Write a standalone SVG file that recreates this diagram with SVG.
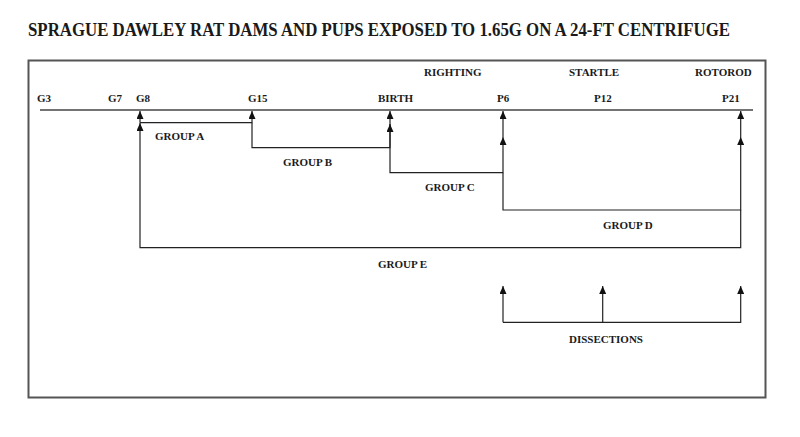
<svg xmlns="http://www.w3.org/2000/svg" width="800" height="437" viewBox="0 0 800 437">
<style>
text{font-family:"Liberation Serif","Times New Roman",serif;font-weight:bold;fill:#1a1a1a}
.lbl{font-size:11px}
.title{font-size:18px}
.c{fill:none;stroke:#222;stroke-width:1.2}
</style>
<defs>
<marker id="ah" viewBox="0 0 8 7" refX="8" refY="3.5" markerWidth="8" markerHeight="7" markerUnits="userSpaceOnUse" orient="auto">
<path d="M0,0 L8,3.5 L0,7 z" fill="#111"/>
</marker>
</defs>
<rect width="800" height="437" fill="#fff"/>
<text class="title" x="28" y="36" textLength="702" lengthAdjust="spacingAndGlyphs">SPRAGUE DAWLEY RAT DAMS AND PUPS EXPOSED TO 1.65G ON A 24-FT CENTRIFUGE</text>
<rect x="28.5" y="60.5" width="737" height="337" fill="none" stroke="#555" stroke-width="2"/>
<g id="timeline">
<line x1="40" y1="110" x2="753" y2="110" stroke="#444" stroke-width="1.5"/>
<text class="lbl" x="37" y="102">G3</text>
<text class="lbl" x="108" y="102">G7</text>
<text class="lbl" x="136" y="102">G8</text>
<text class="lbl" x="248" y="102">G15</text>
<text class="lbl" x="378" y="102">BIRTH</text>
<text class="lbl" x="497" y="102">P6</text>
<text class="lbl" x="594" y="102">P12</text>
<text class="lbl" x="722" y="102">P21</text>
<text class="lbl" x="424" y="76">RIGHTING</text>
<text class="lbl" x="569" y="76">STARTLE</text>
<text class="lbl" x="695" y="76">ROTOROD</text>
</g>
<g id="groupA"><text class="lbl" x="155" y="140">GROUP A</text></g>
<g id="groupB"><text class="lbl" x="283" y="165.5">GROUP B</text></g>
<g id="groupC"><text class="lbl" x="425" y="191">GROUP C</text></g>
<g id="groupD"><text class="lbl" x="603" y="229">GROUP D</text></g>
<g id="groupE"><text class="lbl" x="378" y="268">GROUP E</text></g>
<g id="dissections"><text class="lbl" x="569" y="343">DISSECTIONS</text></g>
<g id="connectors">
<path class="c" d="M140,122.7 V111" marker-end="url(#ah)"/>
<path class="c" d="M140,122.7 H252 V111" marker-end="url(#ah)"/>
<path class="c" d="M252,122.7 V147.7 H390 V111" marker-end="url(#ah)"/>
<path class="c" d="M390,147.7 V124" marker-end="url(#ah)"/>
<path class="c" d="M390,147.7 V172.7 H503 V137" marker-end="url(#ah)"/>
<path class="c" d="M503,137 V111" marker-end="url(#ah)"/>
<path class="c" d="M503,172.7 V210 H740.7 V137" marker-end="url(#ah)"/>
<path class="c" d="M740.7,137 V111" marker-end="url(#ah)"/>
<path class="c" d="M740.7,210 V247.7 H140 V123" marker-end="url(#ah)"/>
<path class="c" d="M503,322.3 V286" marker-end="url(#ah)"/>
<path class="c" d="M503,322.3 H740.7 V286" marker-end="url(#ah)"/>
<path class="c" d="M602.7,322.3 V286" marker-end="url(#ah)"/>
</g>
</svg>
